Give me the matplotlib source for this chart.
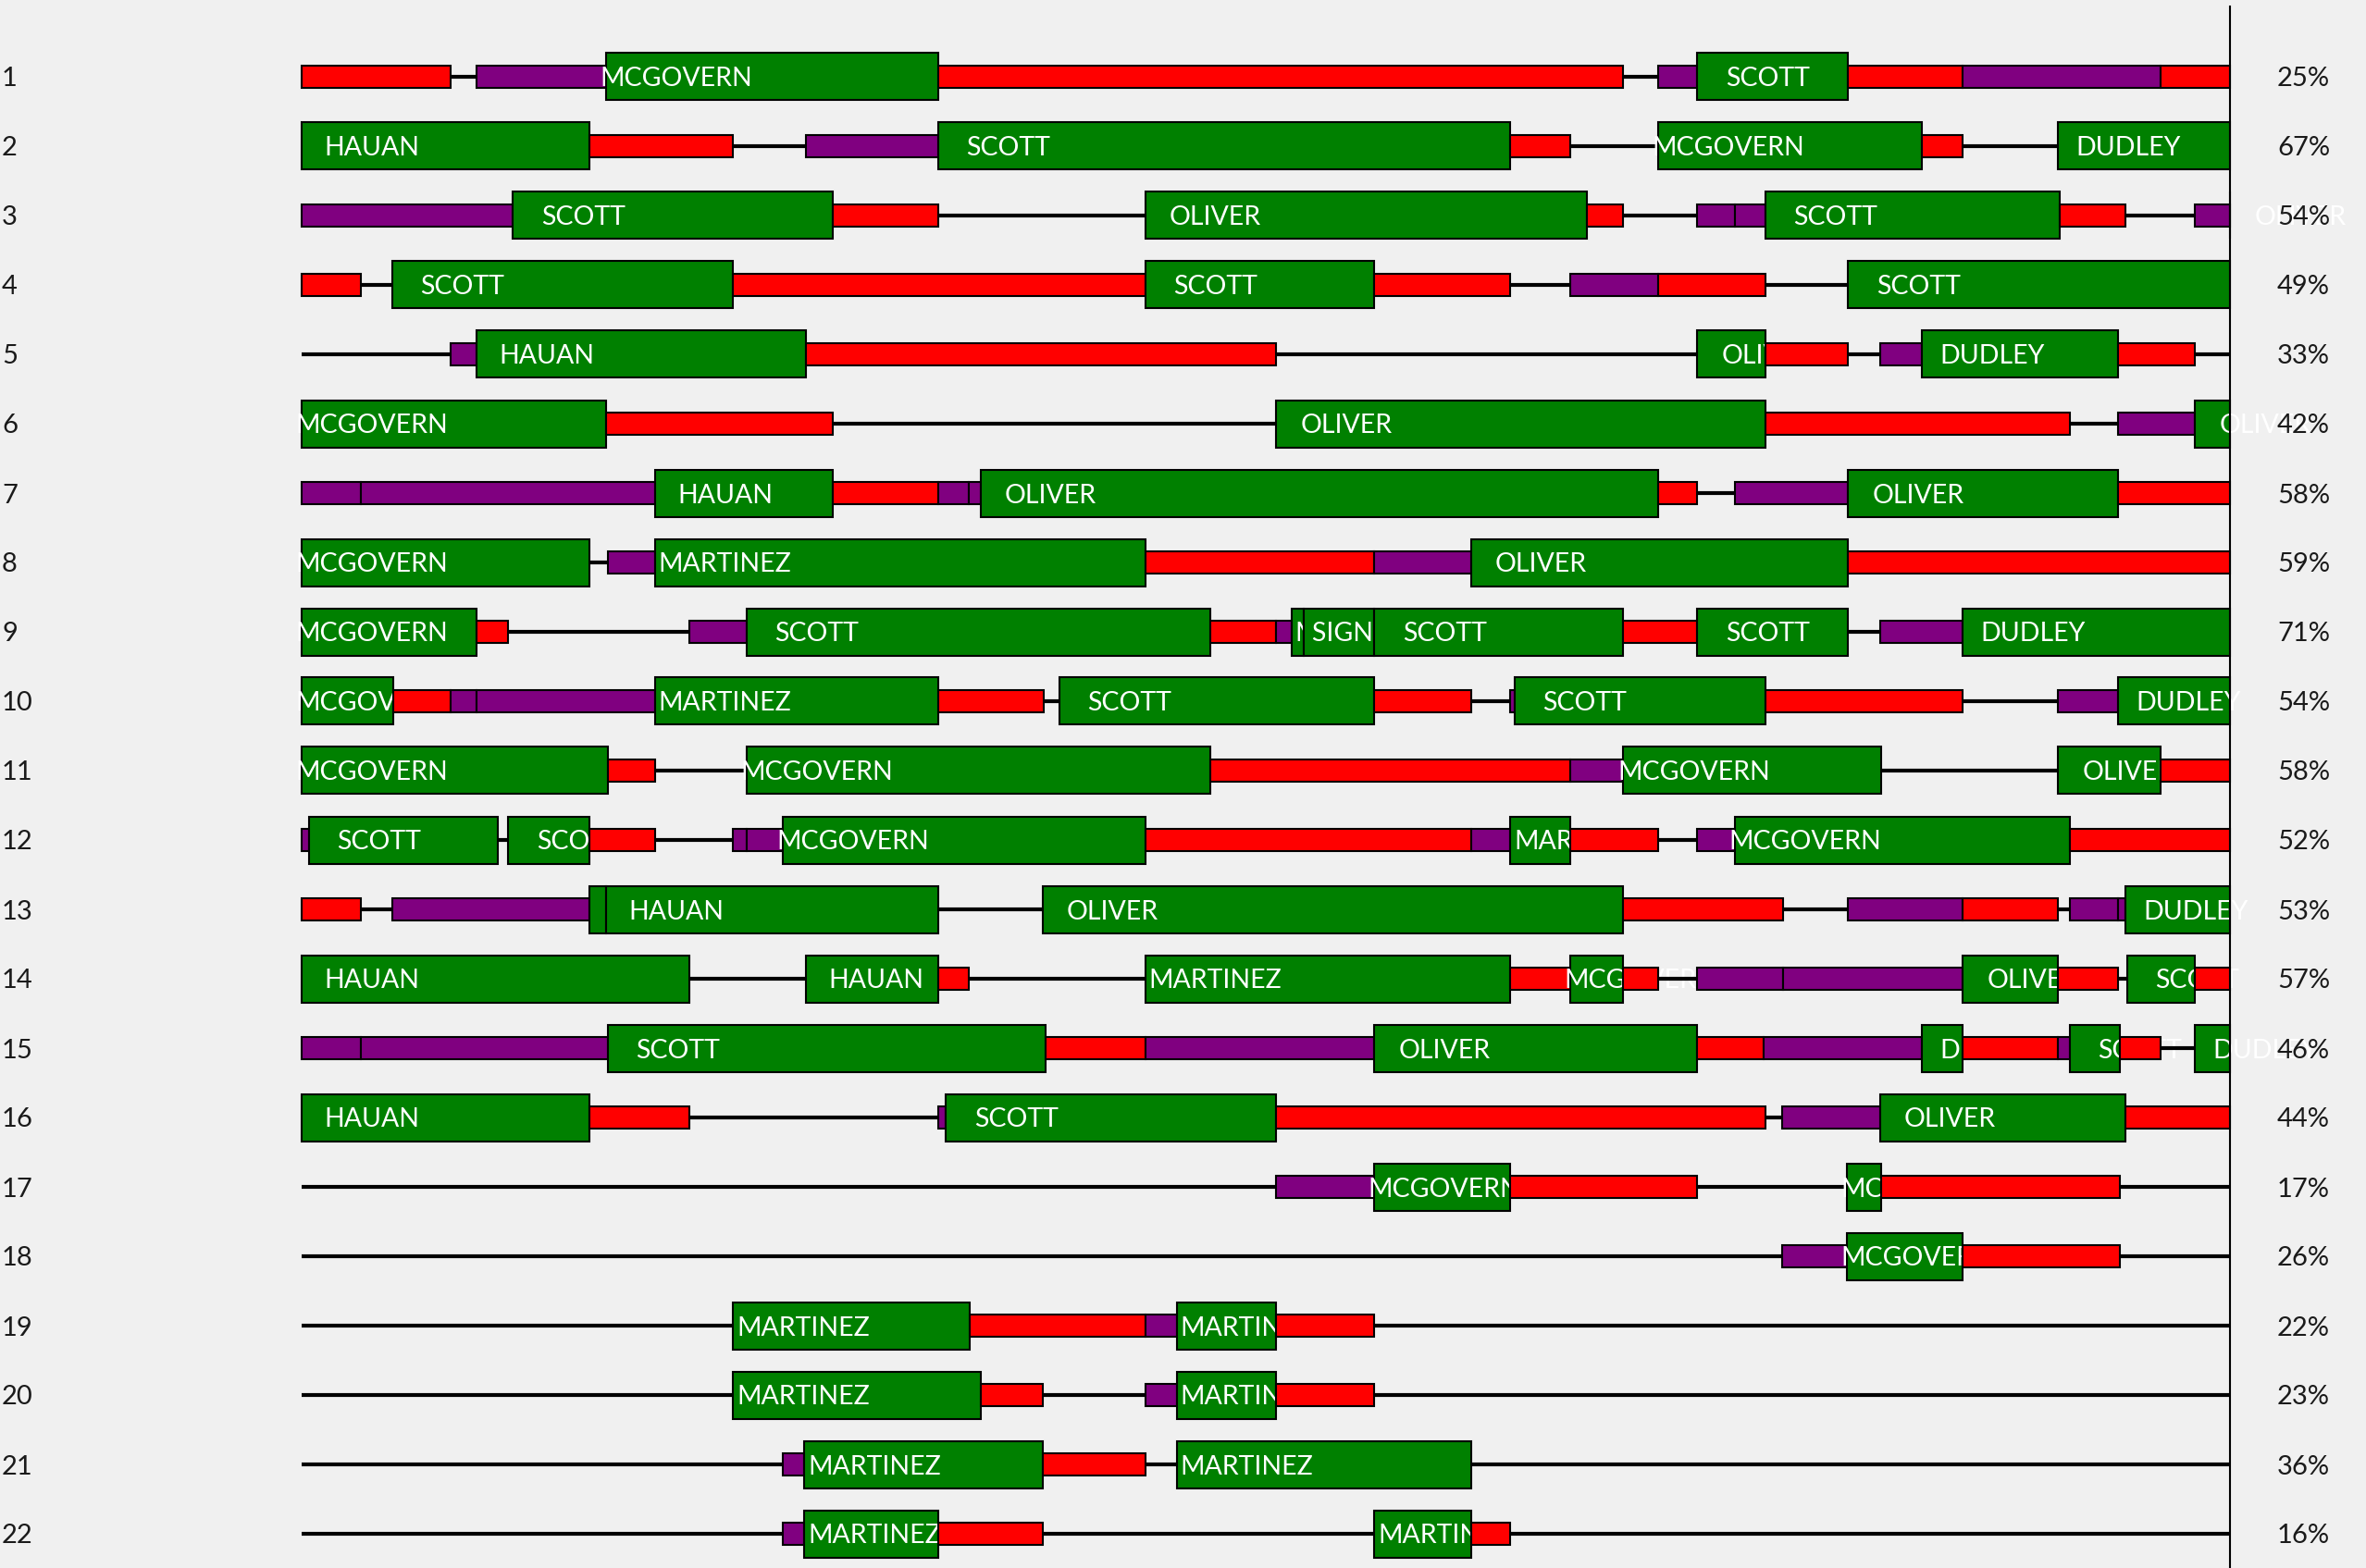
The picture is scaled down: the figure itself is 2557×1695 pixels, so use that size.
import matplotlib
matplotlib.use("Agg")
import matplotlib.pyplot as plt
from matplotlib.patches import Rectangle
from matplotlib.transforms import blended_transform_factory

plt.rcParams['font.family'] = ['Lato', 'DejaVu Sans']

# schedule view: time runs from 0 to t_end (screen units of the original view)
t_end = 1278

# per row: segment edges, segment kinds, names of the green jobs
# R = red, P = purple, G = green job box, L = idle line
row_edges = [
    [0, 99, 116, 202, 422, 876, 899, 925, 1025, 1101, 1232, 1278],
    [0, 191, 286, 334, 422, 801, 841, 899, 1074, 1101, 1164, 1278],
    [0, 140, 352, 422, 559, 852, 876, 925, 950, 970, 1165, 1209, 1255, 1278, 1278],
    [0, 39, 60, 286, 559, 711, 801, 841, 899, 970, 1025, 1278],
    [0, 99, 116, 334, 646, 925, 970, 1025, 1046, 1074, 1204, 1255, 1278],
    [0, 202, 352, 646, 970, 1172, 1204, 1255, 1278],
    [0, 39, 234, 352, 422, 442, 450, 899, 925, 950, 1025, 1204, 1278],
    [0, 191, 203, 234, 559, 711, 775, 1025, 1278],
    [0, 116, 137, 257, 295, 602, 646, 656, 664, 711, 876, 925, 1025, 1046, 1101, 1278],
    [0, 61, 99, 116, 234, 422, 492, 502, 711, 775, 801, 804, 970, 1101, 1164, 1204, 1278],
    [0, 203, 234, 295, 602, 841, 876, 1047, 1164, 1232, 1278],
    [0, 5, 130, 137, 191, 234, 286, 295, 319, 559, 775, 801, 841, 899, 925, 950, 1172, 1278],
    [0, 39, 60, 191, 202, 422, 491, 876, 982, 1025, 1101, 1164, 1172, 1204, 1209, 1278],
    [0, 257, 334, 422, 442, 559, 801, 841, 876, 899, 925, 982, 1101, 1164, 1204, 1210, 1255, 1278],
    [0, 39, 203, 493, 559, 711, 925, 969, 1074, 1101, 1164, 1172, 1205, 1232, 1255, 1278],
    [0, 191, 257, 422, 427, 646, 970, 981, 1046, 1209, 1278],
    [0, 646, 711, 801, 925, 1024, 1047, 1205, 1278],
    [0, 981, 1024, 1101, 1205, 1278],
    [0, 286, 443, 559, 580, 646, 711, 1278],
    [0, 286, 450, 491, 559, 580, 646, 711, 1278],
    [0, 319, 333, 491, 559, 580, 775, 1278],
    [0, 319, 333, 422, 491, 711, 775, 801, 1278],
]
row_kinds = [
    "RLPGRLPGRPR",
    "GRLPGRLGRLG",
    "PGRLGRLPPGRLPG",
    "RLGRGRLPRLG",
    "LPGRLGRLPGRL",
    "GRLGRLPG",
    "PPGRPPGRLPGR",
    "GLPGRPGR",
    "GRLPGRPGGGRGLPG",
    "GRPPGRLGRLPGRLPG",
    "GRLGRPGLGR",
    "PGLGRLPPGRPGRLPGR",
    "RLPGGLGRLPRLPPG",
    "GLGRLGRGRLPPGRLGR",
    "PPGRPGRPGRPGRLG",
    "GRLPGRLPGR",
    "LPGRLGRL",
    "LPGRL",
    "LGRPGRL",
    "LGRLPGRL",
    "LPGRLGL",
    "LPGRLGRL",
]
row_names = [
    ["MCGOVERN", "SCOTT"],
    ["HAUAN", "SCOTT", "MCGOVERN", "DUDLEY"],
    ["SCOTT", "OLIVER", "SCOTT", "OLIVER"],
    ["SCOTT", "SCOTT", "SCOTT"],
    ["HAUAN", "OLIVER", "DUDLEY"],
    ["MCGOVERN", "OLIVER", "OLIVER"],
    ["HAUAN", "OLIVER", "OLIVER"],
    ["MCGOVERN", "MARTINEZ", "OLIVER"],
    ["MCGOVERN", "SCOTT", "MARTINEZ", "SIGN OUT", "SCOTT", "SCOTT", "DUDLEY"],
    ["MCGOVERN", "MARTINEZ", "SCOTT", "SCOTT", "DUDLEY"],
    ["MCGOVERN", "MCGOVERN", "MCGOVERN", "OLIVER"],
    ["SCOTT", "SCOTT", "MCGOVERN", "MARTINEZ", "MCGOVERN"],
    ["", "HAUAN", "OLIVER", "DUDLEY"],
    ["HAUAN", "HAUAN", "MARTINEZ", "MCGOVERN", "OLIVER", "SCOTT"],
    ["SCOTT", "OLIVER", "DUDLEY", "SCOTT", "DUDLEY"],
    ["HAUAN", "SCOTT", "OLIVER"],
    ["MCGOVERN", "MCGOVERN"],
    ["MCGOVERN"],
    ["MARTINEZ", "MARTINEZ"],
    ["MARTINEZ", "MARTINEZ"],
    ["MARTINEZ", "MARTINEZ"],
    ["MARTINEZ", "MARTINEZ"],
]
row_pct = [25, 67, 54, 49, 33, 42, 58, 59, 71, 54, 58, 52, 53, 57, 46, 44, 17, 26, 22, 23, 36, 16]

bg = '#f0f0f0'
colors = {'R': '#ff0000', 'P': '#800080', 'G': '#008000'}
box_h = 0.68
bar_h = 0.32

W, H = 2557, 1695
fig = plt.figure(figsize=(W / 100, H / 100), dpi=100)
fig.patch.set_facecolor(bg)
ax = fig.add_axes([326 / W, 0, (2410 - 326) / W, 1])
ax.set_facecolor(bg)
ax.set_xlim(0, t_end)
# row centres sit at 83 px from the top, 75 px apart
ax.set_ylim(1 + (H - 83) / 75, 1 - 83 / 75)
ax.axis('off')

trans = blended_transform_factory(fig.transFigure, ax.transData)

for r in range(len(row_edges)):
    y = r + 1
    e = row_edges[r]
    names = iter(row_names[r])
    z = 2
    for i, kind in enumerate(row_kinds[r]):
        x0, x1 = e[i], e[i + 1]
        if kind == 'L':
            ax.plot([x0, x1], [y, y], color='black', lw=3.0, zorder=z,
                    solid_capstyle='butt', clip_on=False)
        elif kind == 'G':
            ax.add_patch(Rectangle((x0, y - box_h / 2), x1 - x0, box_h, fc=colors['G'],
                                   ec='black', lw=1.5, zorder=z, clip_on=False))
            # labels are not clipped: later segments paint over them
            ax.text(x0 + 46.5, y, next(names), ha='center', va='center_baseline',
                    color='white', fontsize=20.5, zorder=z + 1, clip_on=False)
        else:
            ax.add_patch(Rectangle((x0, y - bar_h / 2), x1 - x0, bar_h, fc=colors[kind],
                                   ec='black', lw=1.5, zorder=z, clip_on=False))
        z += 2

    ax.text(2 / W, y, str(r + 1), transform=trans, ha='left', va='center_baseline',
            fontsize=21, color='#1a1a1a', zorder=500)
    ax.text(2461 / W, y, f"{row_pct[r]}%", transform=trans, ha='left', va='center_baseline',
            fontsize=21, color='#1a1a1a', zorder=500, clip_on=False)

ax.axvline(t_end, ymin=0, ymax=1 - 7 / H, color='black', lw=1.5, zorder=400, clip_on=False)

fig.savefig("out.png", dpi=100, facecolor=bg)
